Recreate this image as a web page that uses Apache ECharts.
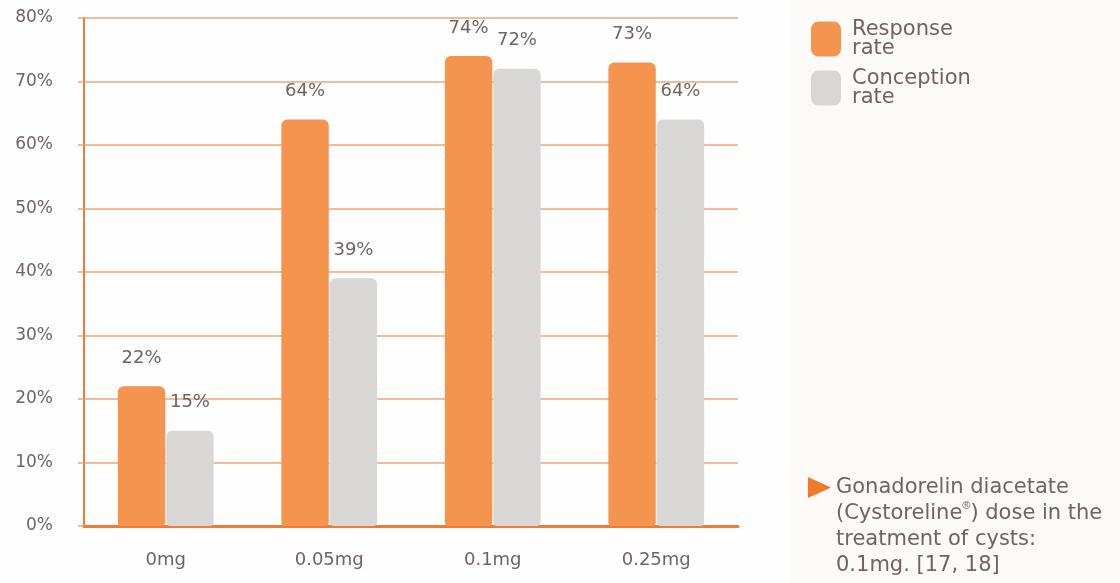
<!DOCTYPE html>
<html>
<head>
<meta charset="utf-8">
<script src="https://cdn.jsdelivr.net/npm/echarts@6/dist/echarts.min.js"></script>
<style>
  html, body { margin: 0; padding: 0; background: #fefefe; }
  #chart { width: 1120px; height: 583px; }
</style>
</head>
<body>
<div id="chart"></div>
<script>
// Dose groups and outcome rates (%)
const doses = ['0mg', '0.05mg', '0.1mg', '0.25mg'];
const responseRate = [22, 64, 74, 73];
const conceptionRate = [15, 39, 72, 64];
const yTicks = [0, 10, 20, 30, 40, 50, 60, 70, 80];

const ORANGE = '#f4944f';
const GREY = '#d9d7d5';
const AXIS = '#f07a3a';
const TEXT = '#706363';
const FONT = '"DejaVu Sans", sans-serif';

const chart = echarts.init(document.getElementById('chart'));

const labelStyle = {
  show: true,
  position: 'top',
  distance: 19,
  fontFamily: FONT,
  fontSize: 18,
  color: TEXT,
  formatter: p => p.value + '%'
};

chart.setOption({
  backgroundColor: '#fefefe',
  animation: false,
  grid: { left: 84, right: 382, top: 18, bottom: 57 },
  legend: {
    orient: 'vertical',
    left: 811,
    top: 19,
    padding: 0,
    itemWidth: 30,
    itemHeight: 35,
    itemGap: 9,
    icon: 'roundRect',
    selectedMode: false,
    textStyle: {
      fontFamily: FONT,
      fontSize: 21,
      lineHeight: 19,
      color: TEXT,
      padding: [0, 0, 0, 6]
    },
    formatter: name => name.replace(' ', '\n'),
    data: ['Response rate', 'Conception rate']
  },
  xAxis: {
    type: 'category',
    data: doses,
    axisLine: { lineStyle: { color: AXIS, width: 3 } },
    axisTick: { show: false },
    axisLabel: { margin: 25, fontFamily: FONT, fontSize: 18, color: TEXT }
  },
  yAxis: {
    type: 'value',
    min: yTicks[0],
    max: yTicks[yTicks.length - 1],
    interval: 10,
    axisLine: { show: true, lineStyle: { color: AXIS, width: 2 } },
    axisTick: { show: true, length: 6, lineStyle: { color: '#f4a473', width: 1.5 } },
    splitLine: { lineStyle: { color: '#f4a473', width: 1.5 } },
    axisLabel: {
      margin: 31,
      fontFamily: FONT,
      fontSize: 17,
      color: TEXT,
      formatter: v => v + '%'
    }
  },
  series: [
    {
      name: 'Response rate',
      type: 'bar',
      data: responseRate,
      barWidth: '29%',
      barGap: '2%',
      itemStyle: { color: ORANGE, borderRadius: [6, 6, 4, 4] },
      label: labelStyle
    },
    {
      name: 'Conception rate',
      type: 'bar',
      data: conceptionRate,
      barWidth: '29%',
      itemStyle: { color: GREY, borderRadius: [6, 6, 4, 4] },
      label: labelStyle
    }
  ],
  graphic: [
    {
      type: 'rect',
      z: -10,
      silent: true,
      shape: { x: 790, y: 0, width: 330, height: 583 },
      style: { fill: '#fcf9f9' }
    },
    {
      type: 'polygon',
      shape: { points: [[808, 477], [831, 487.5], [808, 498]] },
      style: { fill: '#f07a2a' }
    },
    {
      type: 'text',
      left: 836,
      top: 475,
      style: {
        text: 'Gonadorelin diacetate\n(Cystoreline{sup|®}) dose in the\ntreatment of cysts:\n0.1mg. [17, 18]',
        fontFamily: FONT,
        fontSize: 21,
        lineHeight: 25.8,
        fill: TEXT,
        rich: {
          sup: { fontSize: 11, verticalAlign: 'top', lineHeight: 25.8, fill: TEXT, padding: [0, 0, 8, 0] }
        }
      }
    }
  ]
});
</script>
</body>
</html>
